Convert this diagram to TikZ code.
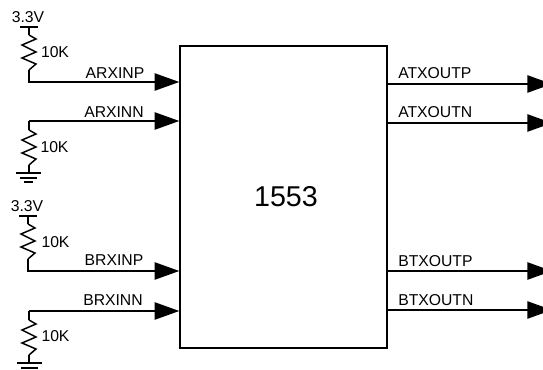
\documentclass[tikz,border=0pt]{standalone}
\usepackage{xcolor}
\usepackage{fontspec}
\setmainfont{Liberation Sans}
\usetikzlibrary{arrows.meta, positioning, calc}

\begin{document}
\begin{tikzpicture}[
    x=0.75pt, y=-0.75pt,
    wire/.style={black, line width=1.1pt},
    sig/.style={wire, -{Triangle[length=18.5pt, width=13pt]}},
    lbl/.style={font=\fontsize{11.8pt}{13pt}\selectfont, inner sep=0pt},
    resistor/.pic={
        \draw[wire, line join=miter] (0,0) -- (7,4) -- (-7,10) -- (7,17) -- (-7,23) -- (7,29) -- (0,35);
        \coordinate (-top) at (0,0);
        \coordinate (-bot) at (0,35);
    },
    rail/.pic={\draw[wire] (-9,0) -- (9,0);},
    ground/.pic={
        \draw[wire] (-12.5,0) -- (12.5,0);
        \draw[wire] (-8.5,5) -- (8.5,5);
        \draw[wire] (-4.5,9) -- (4.5,9);
    }
]
\useasboundingbox (0,0) rectangle (543,370);

% Chip
\node[draw, wire, fill=white, minimum width=155.25pt, minimum height=226.5pt, inner sep=0pt] (chip) at (283.5, 197) {};
\node[font=\fontsize{21.5pt}{24pt}\selectfont, inner sep=0pt] (chip_lbl) at (286, 197) {1553};

% Corners of the input wires
\coordinate (ainp) at (29, 82);
\coordinate (ainn) at (29, 121);
\coordinate (binp) at (28, 271);
\coordinate (binn) at (29, 311);

% Outer ends of the output wires
\coordinate (aoutp) at (552, 84);
\coordinate (aoutn) at (552, 123);
\coordinate (boutp) at (552, 271);
\coordinate (boutn) at (552, 310);

% Rails
\coordinate (vcca) at (29, 27);
\coordinate (vccb) at (28, 216);
\coordinate (gnda) at (28.5, 173);
\coordinate (gndb) at (29.5, 363);
\pic at (vcca) {rail};
\pic at (vccb) {rail};
\pic at (gnda) {ground};
\pic at (gndb) {ground};
\node[lbl] (vcca_lbl) at (28, 17) {3.3V};
\node[lbl] (vccb_lbl) at (27, 206) {3.3V};

% Resistors
\pic (ra) at (29, 35) {resistor};
\pic (rb) at (29, 130) {resistor};
\pic (rc) at (28, 224) {resistor};
\pic (rd) at (29, 320) {resistor};
\node[lbl] (ra_val) at (55, 52) {10K};
\node[lbl] (rb_val) at (54.5, 147) {10K};
\node[lbl] (rc_val) at (55.5, 242) {10K};
\node[lbl] (rd_val) at (55.5, 336) {10K};

% Wires
\draw[wire] (vcca) -- (ra-top);
\draw[wire] (ainn) -- (rb-top);
\draw[wire] (rb-bot) -- (rb-bot |- gnda);
\draw[wire] (vccb) -- (rc-top);
\draw[wire] (binn) -- (rd-top);
\draw[wire] (rd-bot) -- (rd-bot |- gndb);

\begin{scope}[every path/.style={sig}]
    \draw (ra-bot) -- (ainp) -- (chip.west |- ainp);
    \draw (ainn) -- (chip.west |- ainn);
    \draw (rc-bot) -- (binp) -- (chip.west |- binp);
    \draw (binn) -- (chip.west |- binn);

    \draw (chip.east |- aoutp) -- (aoutp);
    \draw (chip.east |- aoutn) -- (aoutn);
    \draw (chip.east |- boutp) -- (boutp);
    \draw (chip.east |- boutn) -- (boutn);
\end{scope}

% Signal names
\node[lbl] (ainp_lbl) at (115, 73) {ARXINP};
\node[lbl] (ainn_lbl) at (114, 112) {ARXINN};
\node[lbl] (binp_lbl) at (114, 260.5) {BRXINP};
\node[lbl] (binn_lbl) at (113, 300.5) {BRXINN};
\node[lbl, anchor=west] (aoutp_lbl) at (398, 73.5) {ATXOUTP};
\node[lbl, anchor=west] (aoutn_lbl) at (398, 112.5) {ATXOUTN};
\node[lbl, anchor=west] (boutp_lbl) at (398, 261) {BTXOUTP};
\node[lbl, anchor=west] (boutn_lbl) at (398, 300) {BTXOUTN};

\end{tikzpicture}
\end{document}
